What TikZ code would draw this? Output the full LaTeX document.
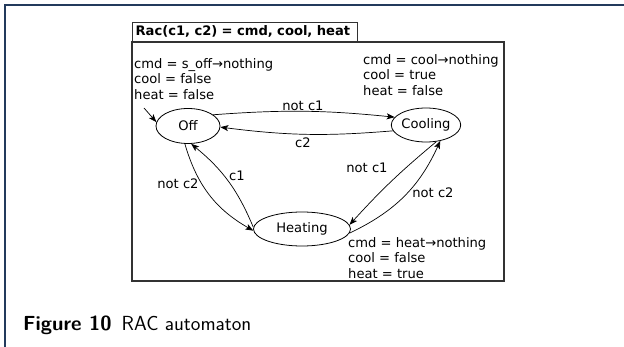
\documentclass[tikz,border=0pt]{standalone}
\usepackage{fontspec}
\newfontfamily\dv{DejaVu Sans}
\usetikzlibrary{shapes.geometric,arrows.meta}
\definecolor{frameblue}{RGB}{35,58,92}
\definecolor{boxgray}{RGB}{50,50,50}
\begin{document}
\begin{tikzpicture}[x=1pt,y=-1pt,
  txt/.style={font=\dv\fontsize{13.1}{15.5}\selectfont},
  st/.style={ellipse,draw,line width=0.8pt,inner sep=0pt,txt},
  tr/.style={-{Stealth[length=8pt,width=6pt,inset=2pt]},line width=0.7pt},
  lbl/.style={txt,inner sep=0pt},
  ann/.style={txt,align=left,anchor=north west,inner sep=0pt}]
\useasboundingbox (0,0) rectangle (624,347);
% page frame
\draw[frameblue,line width=1.3pt] (5,347) -- (5,5) -- (624,5);
% boxes
\draw[boxgray,line width=1.2pt] (132,42) rectangle (504,281);
\node[draw=boxgray,line width=1.2pt,anchor=south west,minimum width=225pt,minimum height=19pt,inner sep=2pt,
  font=\dv\bfseries\fontsize{13.1}{15}\selectfont,text width=219pt,align=left] (title) at (132,42) {Rac(c1, c2) = cmd, cool, heat};
% states
\node[st,minimum width=64pt,minimum height=35pt] (off) at (188,126) {Off};
\node[st,minimum width=68pt,minimum height=34pt] (cool) at (426,125) {Cooling};
\node[st,minimum width=97pt,minimum height=34pt] (heat) at (302,229) {Heating};
% annotations
\node[ann] (aoff) at (134,58) {cmd = s\_off→nothing\\cool = false\\heat = false};
\node[ann] (acool) at (363,54) {cmd = cool→nothing\\cool = true\\heat = false};
\node[ann] (aheat) at (348,237) {cmd = heat→nothing\\cool = false\\heat = true};
% initial
\coordinate (init) at (144,108);
\draw[tr] (init) -- (off.173);
% transitions
\draw[tr] (off.24) to[bend left=5] (cool.166);
\draw[tr] (cool.190) to[bend left=6] (off.358);
\draw[tr] (off.260) to[bend right=22] (heat.182);
\draw[tr] (heat.178) to[bend right=14] (off.280);
\draw[tr] (cool.302) to[bend right=4] (heat.5);
\draw[tr] (heat.355) to[bend right=20] (cool.312);
% labels
\node[lbl] (l1) at (303,106) {not c1};
\node[lbl] (l2) at (303,143) {c2};
\node[lbl] (l3) at (178,184) {not c2};
\node[lbl] (l4) at (237,176) {c1};
\node[lbl] (l5) at (367,168) {not c1};
\node[lbl] (l6) at (433,193) {not c2};
% caption
\node[anchor=base west,inner sep=0pt,font=\sffamily\fontsize{20.4}{24}\selectfont] (cap) at (23,331) {\textbf{Figure 10}\hspace{0.5em}RAC automaton};
\end{tikzpicture}
\end{document}
